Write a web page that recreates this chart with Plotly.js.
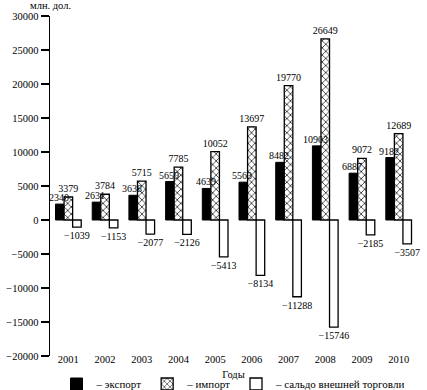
<!DOCTYPE html>
<html>
<head>
<meta charset="utf-8">
<script src="https://cdn.plot.ly/plotly-3.0.1.min.js"></script>
<style>html,body{margin:0;padding:0;background:#fff;}#chart{width:427px;height:390px;}</style>
</head>
<body>
<div id="chart"></div>
<script>
const years = ['2001','2002','2003','2004','2005','2006','2007','2008','2009','2010'];
const exportVals = [2340, 2631, 3638, 5659, 4639, 5563, 8482, 10903, 6887, 9182];
const importVals = [3379, 3784, 5715, 7785, 10052, 13697, 19770, 26649, 9072, 12689];
const saldoVals = [-1039, -1153, -2077, -2126, -5413, -8134, -11288, -15746, -2185, -3507];
const seriesNames = ['– экспорт', '– импорт', '– сальдо внешней торговли'];
const yTicks = [-20000, -15000, -10000, -5000, 0, 5000, 10000, 15000, 20000, 25000, 30000];

const fmt = v => (v < 0 ? '\u2212' + Math.abs(v) : String(v));
const serif = 'Liberation Serif';
const textFont = {family: serif, size: 10, color: '#000'};

const W = 427, H = 390;
const margin = {l: 50, r: 10, t: 16, b: 34, autoexpand: false};
const bargap = 0.3;
const plotW = W - margin.l - margin.r;
const plotH = H - margin.t - margin.b;
const barPx = (1 - bargap) / 3 * plotW / years.length;

const common = {
  type: 'bar', x: years, cliponaxis: false,
  constraintext: 'none', textfont: textFont, hoverinfo: 'skip'
};

const traces = [
  Object.assign({}, common, {
    name: seriesNames[0], y: exportVals, textposition: 'none',
    marker: {color: '#000', line: {color: '#000', width: 1}}
  }),
  Object.assign({}, common, {
    name: seriesNames[1], y: importVals, text: importVals.map(fmt), textposition: 'outside',
    marker: {color: '#fff', line: {color: '#000', width: 1.3},
      pattern: {shape: 'x', size: 5, solidity: 0.25, fgcolor: '#000', bgcolor: '#fff', fillmode: 'replace'}}
  }),
  Object.assign({}, common, {
    name: seriesNames[2], y: saldoVals, text: saldoVals.map(fmt), textposition: 'outside',
    marker: {color: '#fff', line: {color: '#000', width: 1.3}}
  })
];

const yMin = yTicks[0], yMax = yTicks[yTicks.length - 1];
const boundaries = years.map((_, i) => i + 0.5);

const exportLabels = years.map((yr, i) => ({
  text: fmt(exportVals[i]), x: i, y: exportVals[i], xref: 'x', yref: 'y',
  xanchor: 'center', yanchor: 'bottom', xshift: -barPx - 1, yshift: -1,
  showarrow: false, font: textFont
}));

const layout = {
  width: W, height: H, margin: margin,
  paper_bgcolor: '#fff', plot_bgcolor: '#fff',
  barmode: 'group', bargap: bargap, bargroupgap: 0,
  font: {family: serif, size: 10.5, color: '#000'},
  showlegend: true,
  legend: {orientation: 'h', x: 0.5, xanchor: 'center', y: -(384 - (H - margin.b)) / plotH, yanchor: 'middle',
    font: {family: serif, size: 11, color: '#000'}, itemwidth: 30, bgcolor: 'rgba(0,0,0,0)'},
  xaxis: {
    type: 'category', range: [-0.5, years.length - 0.5],
    showline: false, ticks: '', showgrid: false, zeroline: false,
    tickfont: {family: serif, size: 10.5, color: '#000'}, ticklabelstandoff: -5,
    title: {text: 'Годы', font: {family: serif, size: 10.5, color: '#000'}, standoff: 7}
  },
  xaxis2: {
    overlaying: 'x', anchor: 'free', position: (0 - yMin) / (yMax - yMin),
    range: [-0.5, years.length - 0.5], showline: true, linecolor: '#000', linewidth: 1.3,
    ticks: 'outside', ticklen: 7, tickwidth: 1.3, tickcolor: '#000',
    tickmode: 'array', tickvals: boundaries, showticklabels: false,
    showgrid: false, zeroline: false, side: 'bottom'
  },
  yaxis: {
    range: [yMin, yMax], tickmode: 'array', tickvals: yTicks, ticktext: yTicks.map(fmt),
    ticks: 'outside', ticklen: 8, tickwidth: 1.3, tickcolor: '#000',
    showline: true, linecolor: '#000', linewidth: 1.5,
    showgrid: false, zeroline: false,
    tickfont: {family: serif, size: 10.5, color: '#000'}
  },
  annotations: [{
    text: 'млн. дол.', xref: 'paper', yref: 'paper', x: 0, y: 1.032,
    xanchor: 'center', yanchor: 'middle', showarrow: false,
    font: {family: serif, size: 10.5, color: '#000'}
  }].concat(exportLabels)
};

Plotly.newPlot('chart', traces, layout, {displayModeBar: false, staticPlot: true});
</script>
</body>
</html>
